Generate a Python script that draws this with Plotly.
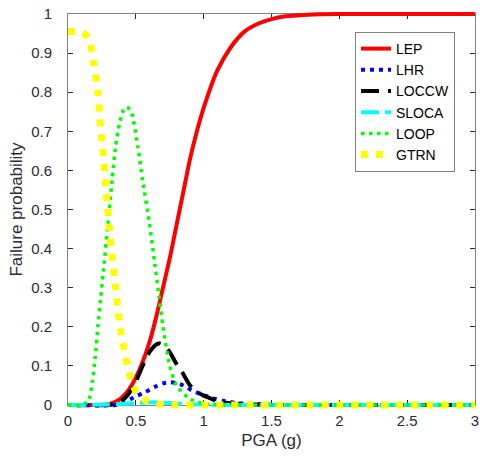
import plotly.graph_objects as go

# ---------------- data ----------------
series_names = ["LEP", "LHR", "LOCCW", "SLOCA", "LOOP", "GTRN"]

lep_x = [0, 0.2, 0.3, 0.35, 0.4, 0.45, 0.5, 0.55, 0.6, 0.65, 0.7, 0.75, 0.8, 0.85,
         0.9, 0.95, 1.0, 1.1, 1.2, 1.3, 1.4, 1.5, 1.6, 1.8, 2.0, 2.5, 3.0]
lep_y = [0, 0, 0.002, 0.008, 0.02, 0.04, 0.07, 0.11, 0.16, 0.225, 0.30, 0.375, 0.46, 0.545,
         0.63, 0.70, 0.76, 0.855, 0.915, 0.955, 0.975, 0.987, 0.994, 0.999, 1.0, 1.0, 1.0]

lhr_x = [0, 0.35, 0.4, 0.46, 0.5, 0.57, 0.65, 0.7, 0.75, 0.8, 0.85, 0.91, 1.0, 1.07,
         1.14, 1.25, 1.4, 1.6, 2.0, 3.0]
lhr_y = [0, 0, 0.005, 0.015, 0.022, 0.033, 0.048, 0.055, 0.058, 0.056, 0.05, 0.038, 0.025, 0.017,
         0.011, 0.005, 0.002, 0, 0, 0]

loccw_x = [0, 0.3, 0.35, 0.4, 0.45, 0.5, 0.55, 0.6, 0.65, 0.68, 0.72, 0.75, 0.8, 0.84,
           0.9, 0.95, 1.0, 1.05, 1.1, 1.2, 1.4, 1.6, 2.0, 3.0]
loccw_y = [0, 0, 0.003, 0.012, 0.03, 0.06, 0.1, 0.135, 0.155, 0.157, 0.148, 0.135, 0.105, 0.085,
           0.05, 0.034, 0.024, 0.017, 0.01, 0.004, 0.001, 0, 0, 0]

sloca_x = [0, 0.3, 0.45, 0.6, 0.7, 0.9, 1.2, 2.0, 3.0]
sloca_y = [0, 0.001, 0.004, 0.007, 0.006, 0.002, 0, 0, 0]

loop_x = [0, 0.1, 0.15, 0.18, 0.2, 0.22, 0.24, 0.26, 0.295, 0.325, 0.35, 0.38, 0.41, 0.435,
          0.47, 0.515, 0.55, 0.6, 0.64, 0.67, 0.7, 0.75, 0.8, 0.9, 1.0, 1.1, 1.2, 2.0, 3.0]
loop_y = [0, 0, 0.01, 0.06, 0.12, 0.2, 0.27, 0.34, 0.465, 0.575, 0.66, 0.72, 0.755, 0.762,
          0.745, 0.66, 0.575, 0.465, 0.36, 0.28, 0.2, 0.1, 0.05, 0.015, 0.004, 0.001, 0, 0, 0]

gtrn_x = [0, 0.1, 0.15, 0.19, 0.22, 0.236, 0.255, 0.29, 0.32, 0.35, 0.38, 0.41, 0.46, 0.5,
          0.57, 0.65, 0.8, 1.0, 2.0, 3.0]
gtrn_y = [0.955, 0.953, 0.94, 0.875, 0.80, 0.73, 0.66, 0.51, 0.40, 0.30, 0.21, 0.15, 0.07, 0.035,
          0.012, 0.003, 0, 0, 0, 0]

x_ticks = [0, 0.5, 1, 1.5, 2, 2.5, 3]
x_tick_labels = ["0", "0.5", "1", "1.5", "2", "2.5", "3"]
y_ticks = [0, 0.1, 0.2, 0.3, 0.4, 0.5, 0.6, 0.7, 0.8, 0.9, 1]
y_tick_labels = ["0", "0.1", "0.2", "0.3", "0.4", "0.5", "0.6", "0.7", "0.8", "0.9", "1"]

# ---------------- styles ----------------
styles = {
    "LEP":   dict(color="#FF0000", width=4, dash="solid"),
    "LHR":   dict(color="#0000FF", width=4, dash="4px,5px"),
    "LOCCW": dict(color="#000000", width=4, dash="18px,9px"),
    "SLOCA": dict(color="#00FFFF", width=4, dash="18px,6px"),
    "LOOP":  dict(color="#00FF00", width=3.5, dash="3.5px,4.5px"),
    "GTRN":  dict(color="#FFFF00", width=7, dash="7px,8px"),
}
data = {
    "LEP": (lep_x, lep_y), "LHR": (lhr_x, lhr_y), "LOCCW": (loccw_x, loccw_y),
    "SLOCA": (sloca_x, sloca_y), "LOOP": (loop_x, loop_y), "GTRN": (gtrn_x, gtrn_y),
}

# ---------------- layout geometry (pixels) ----------------
W, H = 484, 457
ML, MR, MT, MB = 58, 3, 5, 43           # outer (data-clip) area
AX_L, AX_R, AX_T, AX_B = 68, 475, 14, 405  # visible axes box
XMIN, XMAX, YMIN, YMAX = 0, 3, 0, 1

area_w = W - ML - MR
area_h = H - MT - MB
xs = (AX_R - AX_L) / (XMAX - XMIN)
ys = (AX_B - AX_T) / (YMAX - YMIN)
x2_range = [XMIN + ((ML) - AX_L) / xs, XMIN + ((W - MR) - AX_L) / xs]
y2_range = [YMIN - ((H - MB) - AX_B) / ys, YMIN + (AX_B - MT) / ys]
x_dom = [(AX_L - ML) / area_w, (AX_R - ML) / area_w]
y_dom = [((H - MB) - AX_B) / area_h, ((H - MB) - AX_T) / area_h]

fig = go.Figure()
# empty trace to anchor visible axes
fig.add_trace(go.Scatter(x=[], y=[], xaxis="x", yaxis="y", showlegend=False, hoverinfo="skip"))
for name in series_names:
    xv, yv = data[name]
    st = styles[name]
    fig.add_trace(go.Scatter(
        x=xv, y=yv, name=name, mode="lines", xaxis="x2", yaxis="y2",
        line=dict(color=st["color"], width=st["width"], dash=st["dash"],
                  shape="spline", smoothing=0.7),
    ))

axis_col = "#808080"
txt_col = "#2b2b36"
fig.update_layout(
    width=W, height=H,
    margin=dict(l=ML, r=MR, t=MT, b=MB, autoexpand=False),
    paper_bgcolor="white", plot_bgcolor="rgba(0,0,0,0)",
    font=dict(family="Liberation Sans, Arial, sans-serif", color=txt_col, size=15),
    xaxis=dict(domain=x_dom, range=[XMIN, XMAX], anchor="y",
               tickvals=x_ticks, ticktext=x_tick_labels,
               ticks="inside", ticklen=5, tickcolor=txt_col, tickwidth=1,
               showline=True, linecolor=axis_col, linewidth=1, mirror="ticks",
               showgrid=False, zeroline=False, tickfont=dict(size=15, color=txt_col),
               ticklabelstandoff=2,
               title=dict(text="PGA (g)", font=dict(size=17, color=txt_col), standoff=6)),
    yaxis=dict(domain=y_dom, range=[YMIN, YMAX], anchor="x",
               tickvals=y_ticks, ticktext=y_tick_labels,
               ticks="inside", ticklen=5, tickcolor=txt_col, tickwidth=1,
               showline=True, linecolor=axis_col, linewidth=1, mirror="ticks",
               showgrid=False, zeroline=False, tickfont=dict(size=15, color=txt_col),
               ticklabelstandoff=12,
               title=dict(text="Failure probability", font=dict(size=17, color=txt_col), standoff=4)),
    xaxis2=dict(domain=[0, 1], range=x2_range, anchor="y2", visible=False),
    yaxis2=dict(domain=[0, 1], range=y2_range, anchor="x2", visible=False),
    legend=dict(x=(355 - ML) / area_w, y=((H - MB) - 32) / area_h, xanchor="left", yanchor="top",
                bgcolor="white", bordercolor="#808080", borderwidth=1,
                font=dict(size=14, color="#000000"), tracegroupgap=0, itemwidth=30),
    showlegend=True,
)

fig.write_html("out.html")
